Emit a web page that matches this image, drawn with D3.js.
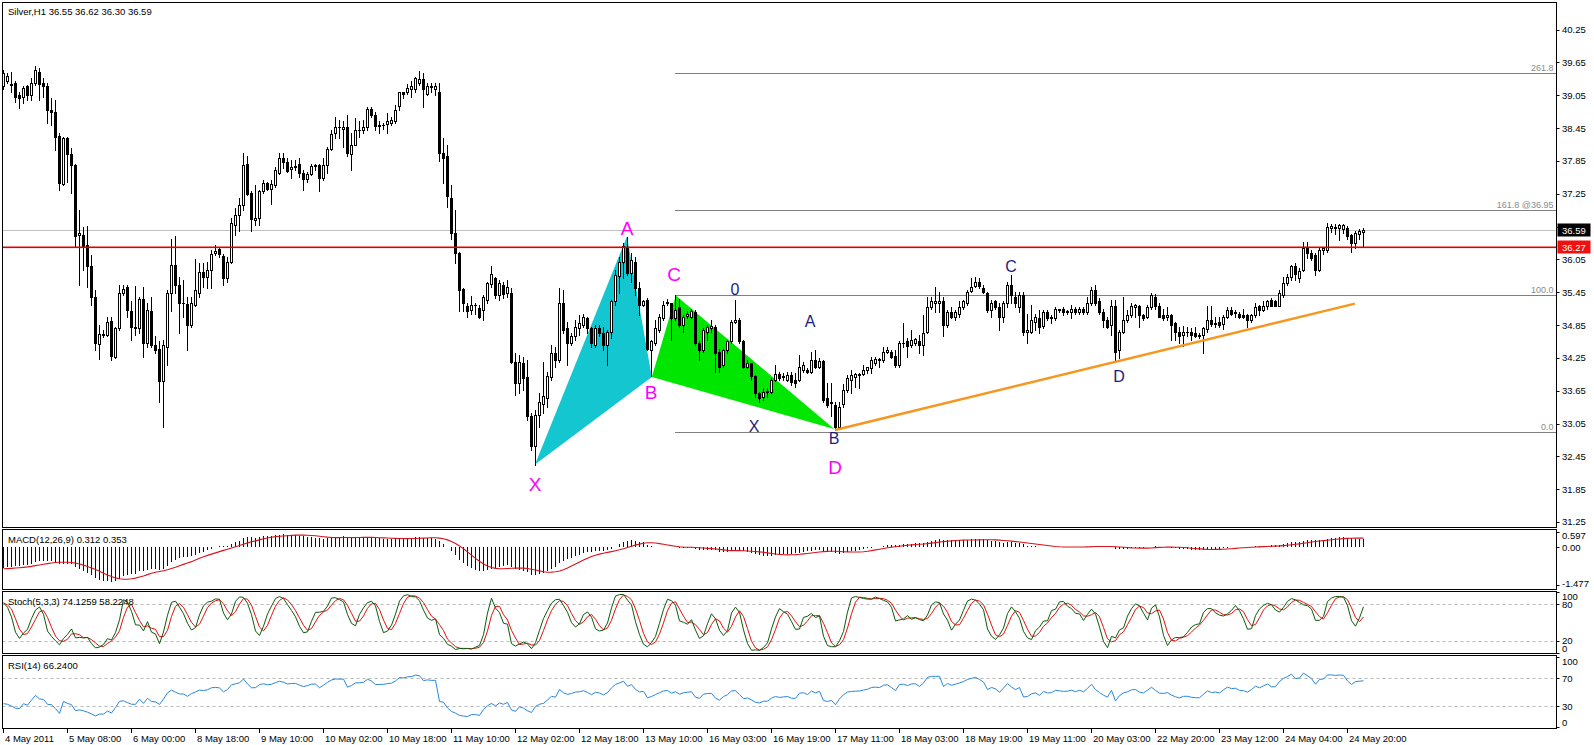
<!DOCTYPE html>
<html><head><meta charset="utf-8">
<script src="https://cdn.jsdelivr.net/npm/d3@7"></script>
<style>html,body{margin:0;padding:0;background:#fff;overflow:hidden}svg{display:block;font-family:"Liberation Sans",Arial,sans-serif}</style>
</head><body><svg id="c" width="1594" height="745"></svg>
<script>
// ---------------- DATA (Silver H1, one value per bar) ----------------
const opens=[39.21,39.30,39.26,39.27,39.05,39.02,39.21,39.05,39.27,39.48,
39.27,39.22,38.78,38.75,38.30,37.43,38.26,37.97,37.77,36.49,
36.50,36.31,35.93,35.36,34.50,34.68,34.67,34.93,34.27,34.79,
35.43,35.54,35.10,34.82,34.79,35.32,34.52,35.10,34.49,34.41,
33.82,34.45,35.44,35.95,35.58,35.26,35.24,34.85,35.22,35.43,
35.81,35.73,35.86,36.17,36.23,36.12,35.70,36.00,36.68,36.86,
37.04,37.79,37.26,36.77,36.80,37.29,37.45,37.33,37.41,37.63,
37.91,37.82,37.70,37.74,37.80,37.62,37.51,37.61,37.76,37.77,
37.53,37.77,38.06,38.35,38.47,38.44,38.46,37.97,38.14,38.41,
38.41,38.46,38.79,38.69,38.49,38.50,38.52,38.55,38.58,38.85,
39.10,39.10,39.16,39.16,39.27,39.34,39.08,39.22,39.16,39.11,
38.00,37.93,37.17,36.54,36.16,35.50,35.20,35.13,35.22,35.16,
35.13,35.31,35.60,35.70,35.40,35.58,35.44,35.43,34.18,33.79,
34.15,33.90,33.18,32.63,33.21,33.40,33.52,33.90,34.33,34.21,
35.25,34.79,34.52,34.64,34.80,34.85,34.97,34.79,34.49,34.79,
34.70,34.49,34.73,35.28,35.75,36.00,36.28,35.80,36.01,35.52,
35.22,35.31,34.39,34.52,34.76,34.97,35.25,35.26,34.97,35.17,
34.85,35.02,35.00,35.08,34.52,34.39,34.73,34.80,34.82,34.36,
34.12,34.39,34.55,34.91,34.94,34.55,34.09,34.15,33.91,33.60,
33.54,33.63,33.63,33.85,33.96,33.90,33.85,33.94,33.85,33.85,
34.03,34.03,34.00,34.21,34.09,34.20,33.51,33.42,33.39,32.99,
33.40,33.66,33.85,33.90,33.94,33.96,34.02,34.06,34.15,34.22,
34.21,34.36,34.36,34.28,34.12,34.52,34.55,34.48,34.52,34.56,
34.48,34.72,35.18,35.25,35.25,35.28,34.85,35.09,35.00,35.06,
35.17,35.25,35.48,35.56,35.64,35.52,35.43,35.12,35.28,35.18,
35.00,35.25,35.58,35.37,35.18,35.40,34.73,34.73,34.91,34.97,
34.83,35.09,34.97,34.97,35.14,35.15,35.09,35.09,35.14,35.09,
35.15,35.09,35.25,35.49,35.28,35.09,34.94,34.85,35.19,34.39,
34.73,34.94,35.03,35.17,35.20,35.03,34.99,35.17,35.37,35.20,
35.03,34.99,35.03,34.88,34.73,34.67,34.72,34.73,34.70,34.67,
34.67,34.77,34.95,34.87,34.91,34.87,35.00,35.12,35.07,35.06,
35.03,35.03,34.94,35.03,35.19,35.12,35.19,35.31,35.28,35.20,
35.40,35.61,35.73,35.92,35.70,35.86,36.25,36.17,36.13,35.86,
36.22,36.22,36.62,36.63,36.62,36.60,36.63,36.49,36.35,36.52,
36.55];
const highs=[39.51,39.45,39.48,39.30,39.11,39.21,39.24,39.36,39.58,39.54,
39.36,39.27,38.99,38.96,38.35,38.28,38.28,38.08,37.80,36.95,
36.65,36.66,36.13,35.49,34.85,34.76,35.00,35.00,34.82,35.58,
35.58,35.58,35.28,35.56,35.37,35.55,35.25,35.37,34.64,34.55,
34.58,35.49,36.43,36.47,35.73,35.67,35.37,35.37,36.05,35.98,
35.98,36.01,36.22,36.31,36.28,36.15,36.10,36.80,36.98,37.17,
37.99,37.93,37.29,37.41,37.32,37.50,37.47,37.50,37.74,37.99,
37.99,37.90,37.87,37.87,37.91,37.68,37.65,37.80,37.80,37.80,
37.90,38.11,38.41,38.66,38.60,38.57,38.69,38.36,38.63,38.57,
38.60,38.84,38.84,38.75,38.57,38.54,38.72,38.66,38.87,39.11,
39.11,39.25,39.30,39.39,39.50,39.45,39.27,39.27,39.27,39.27,
38.26,38.14,37.41,36.95,36.19,35.52,35.25,35.38,35.25,35.22,
35.40,35.64,35.93,35.73,35.67,35.64,35.67,35.52,34.33,34.30,
34.27,34.21,33.24,33.30,33.60,34.18,34.00,34.49,34.45,35.52,
35.49,34.91,34.70,34.94,35.03,35.06,35.00,34.82,34.85,34.85,
34.82,34.76,35.31,35.86,36.10,36.34,36.46,36.16,36.10,35.64,
35.31,35.34,34.58,34.94,35.06,35.28,35.32,35.26,35.40,35.32,
35.03,35.10,35.14,35.12,34.55,34.79,34.85,34.94,34.85,34.42,
34.42,34.58,34.94,35.31,34.97,34.58,34.21,34.15,33.94,33.63,
33.69,33.69,33.88,34.12,34.00,33.97,34.00,34.00,33.97,34.30,
34.18,34.06,34.36,34.39,34.24,34.21,33.79,33.79,33.45,33.45,
33.78,33.94,34.03,33.97,33.97,34.12,34.09,34.27,34.26,34.24,
34.45,34.45,34.39,34.39,34.55,34.88,34.61,34.76,34.61,34.67,
35.03,35.37,35.37,35.55,35.46,35.37,35.12,35.18,35.12,35.28,
35.31,35.49,35.70,35.73,35.70,35.58,35.46,35.31,35.31,35.25,
35.28,35.64,35.76,35.46,35.46,35.46,35.06,35.22,35.06,35.12,
35.12,35.12,35.03,35.18,35.15,35.18,35.12,35.22,35.18,35.18,
35.18,35.37,35.55,35.58,35.34,35.15,35.00,35.31,35.31,34.76,
35.37,35.12,35.25,35.23,35.22,35.06,35.22,35.43,35.41,35.25,
35.15,35.17,35.06,34.91,34.82,34.83,34.82,34.79,34.82,34.70,
34.82,35.20,35.19,35.00,35.00,35.03,35.17,35.17,35.12,35.09,
35.15,35.06,35.06,35.25,35.22,35.28,35.31,35.34,35.31,35.49,
35.73,35.79,35.95,35.98,35.89,36.37,36.37,36.22,36.16,36.25,
36.28,36.72,36.70,36.70,36.70,36.70,36.66,36.52,36.57,36.60,
36.62];
const lows=[39.17,39.27,39.11,38.93,38.81,38.90,38.96,38.96,39.24,38.96,
39.02,38.55,38.50,38.05,37.32,37.41,37.47,37.26,36.28,35.58,
35.86,35.55,35.22,34.39,34.22,34.63,34.64,34.21,34.24,34.76,
35.40,35.00,34.58,34.67,34.70,34.27,34.45,34.45,34.33,33.45,
32.99,34.12,35.10,35.43,34.70,35.00,34.39,34.82,35.19,35.37,
35.55,35.52,35.52,36.13,36.10,35.58,35.64,35.98,36.50,36.56,
36.95,37.23,36.56,36.68,36.68,37.26,37.32,37.07,37.38,37.61,
37.71,37.65,37.53,37.68,37.56,37.32,37.47,37.59,37.68,37.29,
37.50,37.62,38.05,38.26,38.26,38.11,37.93,37.69,38.14,38.29,
38.35,38.41,38.66,38.41,38.35,38.43,38.35,38.50,38.54,38.78,
38.99,39.08,39.02,39.11,39.24,38.84,39.05,39.11,39.05,37.84,
37.44,37.01,36.43,35.98,35.10,35.10,35.00,35.06,35.06,34.97,
34.94,35.25,35.55,35.34,35.31,35.34,35.37,34.15,33.57,33.60,
33.66,33.11,32.57,32.29,32.99,33.24,33.36,33.85,34.09,34.18,
34.70,34.12,34.49,34.58,34.67,34.82,34.70,34.45,34.45,34.64,
34.39,34.12,34.61,35.22,35.43,35.70,35.77,35.64,35.40,35.03,
35.19,34.39,33.91,34.49,34.73,34.94,35.22,34.58,34.94,34.82,
34.73,34.97,34.97,34.49,34.21,34.36,34.58,34.73,34.00,34.00,
34.09,34.33,34.52,34.88,34.52,34.06,34.06,33.85,33.54,33.45,
33.48,33.54,33.60,33.82,33.85,33.85,33.82,33.76,33.72,33.82,
34.00,33.97,33.97,34.06,34.06,33.45,33.36,33.18,32.93,32.96,
33.36,33.63,33.60,33.72,33.69,33.94,33.97,33.97,34.12,34.09,
34.18,34.33,34.24,34.09,34.09,34.45,34.27,34.45,34.48,34.33,
34.30,34.70,35.15,35.09,35.09,34.64,34.82,34.97,34.94,35.00,
35.15,35.22,35.46,35.54,35.52,35.43,35.09,35.00,35.15,34.76,
34.91,35.18,35.25,35.18,35.09,34.67,34.52,34.70,34.76,34.70,
34.79,34.94,34.88,34.94,35.09,35.03,35.06,34.97,35.06,35.06,
35.06,35.06,35.22,35.22,35.06,34.82,34.79,34.67,34.21,34.24,
34.70,34.91,35.00,35.00,34.82,34.94,34.97,35.15,35.15,34.99,
34.94,34.94,34.58,34.58,34.52,34.46,34.64,34.58,34.63,34.61,
34.33,34.73,34.83,34.82,34.82,34.77,34.97,35.03,35.00,34.97,
34.97,34.82,34.91,35.00,35.03,35.11,35.15,35.19,35.19,35.19,
35.37,35.58,35.67,35.67,35.64,35.83,36.07,36.04,35.76,35.83,
36.15,36.19,36.55,36.52,36.40,36.54,36.43,36.19,36.25,36.43,
36.30];
const closes=[39.45,39.40,39.24,39.02,38.99,39.18,39.05,39.27,39.51,39.25,
39.22,38.78,38.75,38.29,37.45,38.26,37.97,37.77,36.47,36.54,
36.28,35.92,35.36,34.52,34.69,34.66,34.91,34.28,34.79,35.43,
35.50,35.13,34.82,34.79,35.32,34.52,35.13,34.49,34.39,33.82,
34.49,35.44,35.95,35.58,35.26,35.25,34.85,35.25,35.49,35.81,
35.72,35.86,36.15,36.21,36.15,35.70,36.00,36.71,36.86,37.04,
37.77,37.24,36.78,36.80,37.29,37.45,37.33,37.43,37.68,37.91,
37.82,37.67,37.74,37.75,37.62,37.51,37.61,37.76,37.77,37.53,
37.77,38.06,38.34,38.47,38.46,38.47,37.99,38.14,38.41,38.42,
38.46,38.79,38.69,38.49,38.50,38.51,38.57,38.60,38.78,39.10,
39.08,39.19,39.22,39.36,39.34,39.16,39.22,39.20,39.21,37.99,
37.91,37.20,36.54,36.16,35.49,35.25,35.10,35.22,35.21,35.00,
35.36,35.61,35.78,35.40,35.61,35.42,35.55,34.18,33.79,34.18,
33.88,33.18,32.63,33.21,33.45,33.55,33.91,34.33,34.21,35.25,
34.76,34.52,34.64,34.82,34.88,35.00,34.79,34.52,34.79,34.70,
34.49,34.73,35.28,35.77,36.01,36.29,35.80,36.04,35.52,35.22,
35.28,34.42,34.55,34.79,35.00,35.22,35.27,34.97,35.13,34.85,
35.00,35.05,35.10,34.52,34.39,34.76,34.82,34.83,34.33,34.09,
34.39,34.55,34.91,34.94,34.55,34.09,34.15,33.91,33.60,33.51,
33.63,33.64,33.85,33.96,33.88,33.91,33.94,33.80,33.79,34.09,
34.12,34.00,34.21,34.09,34.20,33.48,33.39,33.45,32.99,33.36,
33.66,33.88,33.93,33.95,33.96,34.03,34.08,34.21,34.23,34.21,
34.36,34.39,34.27,34.12,34.52,34.53,34.47,34.58,34.59,34.48,
34.70,35.18,35.28,35.28,35.29,34.85,35.09,35.00,35.08,35.17,
35.28,35.46,35.55,35.64,35.56,35.46,35.12,35.25,35.18,35.00,
35.25,35.58,35.40,35.25,35.40,34.73,34.76,34.94,35.00,34.82,
35.09,34.97,35.00,35.15,35.12,35.09,35.10,35.15,35.08,35.15,
35.08,35.25,35.49,35.25,35.09,34.94,34.82,35.19,34.36,34.73,
34.94,35.03,35.19,35.22,35.03,34.97,35.17,35.40,35.19,35.00,
34.97,35.03,34.85,34.73,34.64,34.73,34.73,34.67,34.64,34.64,
34.79,34.95,34.87,34.89,34.85,34.99,35.12,35.06,35.08,35.00,
34.99,34.94,35.03,35.17,35.12,35.20,35.28,35.20,35.20,35.43,
35.61,35.73,35.92,35.79,35.83,36.25,36.16,36.07,35.86,36.22,
36.25,36.65,36.66,36.64,36.68,36.67,36.48,36.34,36.54,36.57,
36.59];

const timeLabels=["4 May 2011","5 May 08:00","6 May 00:00","8 May 18:00","9 May 10:00","10 May 02:00","10 May 18:00","11 May 10:00","12 May 02:00","12 May 18:00","13 May 10:00","16 May 03:00","16 May 19:00","17 May 11:00","18 May 03:00","18 May 19:00","19 May 11:00","20 May 03:00","22 May 20:00","23 May 12:00","24 May 04:00","24 May 20:00"];
const timeLabelEvery=16; // bars between time labels
const priceTicks=[40.25,39.65,39.05,38.45,37.85,37.25,36.65,36.05,35.45,34.85,34.25,33.65,33.05,32.45,31.85,31.25];
const bidPrice=36.59, redLevel=36.27;
const fibLevels=[{v:39.45,t:"261.8"},{v:36.95,t:"161.8 @36.95"},{v:35.40,t:"100.0"},{v:32.90,t:"0.0"}];
const fibStartBar=168;
const cyanTri=[{b:133,p:32.30},{b:156,p:36.47},{b:162.2,p:33.90}];
const greenTri=[{b:162.2,p:33.90},{b:168.2,p:35.39},{b:207.8,p:32.95}];
const trendLine=[{b:208,p:32.93},{b:338,p:35.24}];
const magentaLabels=[{t:"X",b:133,p:31.93},{t:"A",b:156,p:36.62},{t:"B",b:162,p:33.62},{t:"C",b:167.8,p:35.78},{t:"D",b:208,p:32.25}];
const navyLabels=[{t:"0",b:183,p:35.49},{t:"A",b:201.8,p:34.92},{t:"X",b:187.8,p:32.99},{t:"B",b:207.8,p:32.77},{t:"C",b:252,p:35.91},{t:"D",b:279,p:33.90}];
const macdTicks=[0.597,0.00,-1.477], macdTickText=["0.597","0.00","-1.477"];
const stochLevels=[80,20], stochTicks=[100,80,20,0];
const rsiLevels=[70,30], rsiTicks=[100,70,30,0];
const titleText="Silver,H1  36.55 36.62 36.30 36.59";
const macdText="MACD(12,26,9) 0.312 0.353";
const stochText="Stoch(5,3,3) 74.1259 58.2248";
const rsiText="RSI(14) 66.2400";
// warm-up state of the indicators before the first visible bar
const macdSeed={ema12:39.90, ema26:40.72, main:-0.85};
const rsiSeed={avgGain:0.05, avgLoss:0.10};

// ---------------- INDICATORS ----------------
const N=closes.length;
function emaSeries(src,n,seed){const a=2/(n+1);let e=seed;return src.map(v=>(e=e+a*(v-e)));}
const e12=emaSeries(closes,12,macdSeed.ema12), e26=emaSeries(closes,26,macdSeed.ema26);
const macdMain=e12.map((v,i)=>v-e26[i]);
const macdSig=macdMain.map((v,i)=>{let s=0;for(let j=i-8;j<=i;j++)s+=(j<0?macdSeed.main:macdMain[j]);return s/9;});
const LL=[],HH=[];
for(let i=0;i<N;i++){let lo=Infinity,hi=-Infinity;for(let j=Math.max(0,i-4);j<=i;j++){lo=Math.min(lo,lows[j]);hi=Math.max(hi,highs[j]);}LL.push(lo);HH.push(hi);}
const stK=closes.map((c,i)=>{let a=0,b=0;for(let j=Math.max(0,i-2);j<=i;j++){a+=closes[j]-LL[j];b+=HH[j]-LL[j];}return b>0?100*a/b:50;});
const stD=stK.map((v,i)=>{let s=0,n=0;for(let j=Math.max(0,i-2);j<=i;j++){s+=stK[j];n++;}return s/n;});
const rsi=[];{let g=rsiSeed.avgGain,l=rsiSeed.avgLoss;for(let i=0;i<N;i++){if(i>0){const d=closes[i]-closes[i-1];g=(g*13+Math.max(d,0))/14;l=(l*13+Math.max(-d,0))/14;}rsi.push(100-100/(1+g/l));}}

// ---------------- LAYOUT ----------------
const svg=d3.select("#c");
const L=2.5,R=1556.5;
const P={main:[2.5,527.5],macd:[529.5,589.5],stoch:[591.5,653.5],rsi:[655.5,728.5]};
const x=d3.scaleLinear().domain([0,340]).range([3,1363]);
const y=d3.scaleLinear().domain([31.25,40.25]).range([522,29.5]);
const ym=d3.scaleLinear().domain([-1.477,0.597]).range([585,532]);
const ys=d3.scaleLinear().domain([0,100]).range([653,592]);
const yr=d3.scaleLinear().domain([0,100]).range([727,657]);
const defs=svg.append("defs");
Object.entries(P).forEach(([k,v])=>{defs.append("clipPath").attr("id","cl_"+k).append("rect").attr("x",L).attr("y",v[0]).attr("width",R-L).attr("height",v[1]-v[0]);});
svg.append("rect").attr("width",1594).attr("height",745).attr("fill","#fff");
const txt="#000";
function layer(k){return svg.append("g").attr("clip-path","url(#cl_"+k+")");}

// main panel background objects
const gm=layer("main");
const pt=d=>[x(d.b),y(d.p)];
gm.append("path").attr("d",d3.line()(cyanTri.map(pt))+"Z").attr("fill","#13c6cf");
gm.append("path").attr("d",d3.line()(greenTri.map(pt))+"Z").attr("fill","#00e600");
fibLevels.forEach(f=>{const yy=Math.round(y(f.v))+0.5;
  gm.append("line").attr("x1",x(fibStartBar)).attr("x2",R).attr("y1",yy).attr("y2",yy).attr("stroke","#808080").attr("stroke-width",1);
  gm.append("text").attr("x",R-3).attr("y",yy-2.5).attr("text-anchor","end").attr("font-size","9px").attr("fill","#8a8a8a").text(f.t);});
const bidY=Math.round(y(bidPrice))+0.5;
gm.append("line").attr("x1",L).attr("x2",R).attr("y1",bidY).attr("y2",bidY).attr("stroke","#c0c0c0").attr("stroke-width",1);

// candles
const gc=gm.append("g").attr("shape-rendering","crispEdges");
d3.range(N).forEach(i=>{
  const cx=Math.round(x(i)),o=opens[i],c=closes[i];
  const hi=Math.max(highs[i],o,c),lo=Math.min(lows[i],o,c);
  gc.append("line").attr("x1",cx+0.5).attr("x2",cx+0.5).attr("y1",Math.round(y(hi))).attr("y2",Math.round(y(lo))+1).attr("stroke","#000");
  const top=Math.round(y(Math.max(o,c))),bot=Math.round(y(Math.min(o,c)));
  if(bot-top<1){gc.append("rect").attr("x",cx-1).attr("y",top).attr("width",3).attr("height",1).attr("fill","#000");}
  else if(c>o){gc.append("rect").attr("x",cx-0.5).attr("y",top+0.5).attr("width",2).attr("height",bot-top).attr("fill","#fff").attr("stroke","#000");}
  else{gc.append("rect").attr("x",cx-1).attr("y",top).attr("width",3).attr("height",bot-top+1).attr("fill","#000");}
});
// red horizontal level (foreground)
const redY=Math.round(y(redLevel));
gm.append("rect").attr("x",L).attr("y",redY-0.5).attr("width",R-L).attr("height",1.6).attr("fill","#e00000");
// trend line
gm.append("line").attr("x1",x(trendLine[0].b)).attr("y1",y(trendLine[0].p)).attr("x2",x(trendLine[1].b)).attr("y2",y(trendLine[1].p)).attr("stroke","#f7961e").attr("stroke-width",2.5);
// pattern labels
magentaLabels.forEach(d=>gm.append("text").attr("x",x(d.b)).attr("y",y(d.p)).attr("text-anchor","middle").attr("dominant-baseline","central").attr("font-size","19px").attr("fill","#ff00ff").text(d.t));
navyLabels.forEach(d=>gm.append("text").attr("x",x(d.b)).attr("y",y(d.p)).attr("text-anchor","middle").attr("dominant-baseline","central").attr("font-size","16px").attr("fill","#1c1c7c").text(d.t));
gm.append("text").attr("x",8).attr("y",11).attr("dominant-baseline","central").attr("font-size","9.5px").attr("fill",txt).text(titleText);

// MACD
const gmc=layer("macd");
const gh=gmc.append("g").attr("shape-rendering","crispEdges");
macdMain.forEach((v,i)=>{const cx=Math.round(x(i))+0.5;gh.append("line").attr("x1",cx).attr("x2",cx).attr("y1",Math.round(ym(0))).attr("y2",Math.round(ym(v))).attr("stroke","#000080");});
gmc.append("path").attr("d",d3.line().x((d,i)=>x(i)+0.5).y(d=>ym(d))(macdSig)).attr("fill","none").attr("stroke","#d8141c").attr("stroke-width",1.1);
gmc.append("text").attr("x",8).attr("y",539.5).attr("dominant-baseline","central").attr("font-size","9.5px").attr("fill",txt).text(macdText);

// Stochastic
const gst=layer("stoch");
stochLevels.forEach(v=>{const yy=Math.round(ys(v))+0.5;gst.append("line").attr("x1",L).attr("x2",R).attr("y1",yy).attr("y2",yy).attr("stroke","#b8b8b8").attr("stroke-dasharray","3,3");});
gst.append("path").attr("d",d3.line().x((d,i)=>x(i)+0.5).y(d=>ys(d))(stD)).attr("fill","none").attr("stroke","#e01010").attr("stroke-width",1);
gst.append("path").attr("d",d3.line().x((d,i)=>x(i)+0.5).y(d=>ys(d))(stK)).attr("fill","none").attr("stroke","#0b5a0b").attr("stroke-width",1);
gst.append("text").attr("x",8).attr("y",601.5).attr("dominant-baseline","central").attr("font-size","9.5px").attr("fill",txt).text(stochText);

// RSI
const grs=layer("rsi");
rsiLevels.forEach(v=>{const yy=Math.round(yr(v))+0.5;grs.append("line").attr("x1",L).attr("x2",R).attr("y1",yy).attr("y2",yy).attr("stroke","#b8b8b8").attr("stroke-dasharray","3,3");});
grs.append("path").attr("d",d3.line().x((d,i)=>x(i)+0.5).y(d=>yr(d))(rsi)).attr("fill","none").attr("stroke","#2a86dc").attr("stroke-width",1);
grs.append("text").attr("x",8).attr("y",665.5).attr("dominant-baseline","central").attr("font-size","9.5px").attr("fill",txt).text(rsiText);

// panel frames
Object.values(P).forEach(v=>svg.append("rect").attr("x",L).attr("y",v[0]).attr("width",R-L).attr("height",v[1]-v[0]).attr("fill","none").attr("stroke","#000").attr("shape-rendering","crispEdges"));

// right axes
const ax=svg.append("g").attr("font-size","9.5px").attr("fill",txt);
function rightLabels(vals,texts,sc,panel,pad){
  vals.forEach((v,i)=>{const yy=sc(v);const cy=Math.max(panel[0]+pad,Math.min(panel[1]-pad,yy));
    ax.append("line").attr("x1",R).attr("x2",R+3).attr("y1",Math.round(yy)+0.5).attr("y2",Math.round(yy)+0.5).attr("stroke","#000");
    ax.append("text").attr("x",1562).attr("y",cy).attr("dominant-baseline","central").text(texts[i]);});
}
rightLabels(priceTicks,priceTicks.map(v=>v.toFixed(2)),y,P.main,6);
rightLabels(macdTicks,macdTickText,ym,P.macd,6);
rightLabels(stochTicks,stochTicks.map(String),ys,P.stoch,5);
rightLabels(rsiTicks,rsiTicks.map(String),yr,P.rsi,6);
// price boxes
[[bidPrice,"#000"],[redLevel,"#f01010"]].forEach(([v,c])=>{const yy=Math.round(y(v));
  ax.append("rect").attr("x",R+1).attr("y",yy-6.5).attr("width",33).attr("height",13).attr("fill",c);
  ax.append("text").attr("x",1562).attr("y",yy+0.5).attr("dominant-baseline","central").attr("fill","#fff").text(v.toFixed(2));});

// time axis
const ta=svg.append("g").attr("font-size","9.5px").attr("fill",txt);
timeLabels.forEach((t,k)=>{const xx=Math.round(x(k*timeLabelEvery))+0.5;
  ta.append("line").attr("x1",xx).attr("x2",xx).attr("y1",728.5).attr("y2",733).attr("stroke","#000");
  ta.append("text").attr("x",xx+1.5).attr("y",738).attr("dominant-baseline","central").text(t);});
</script></body></html>
